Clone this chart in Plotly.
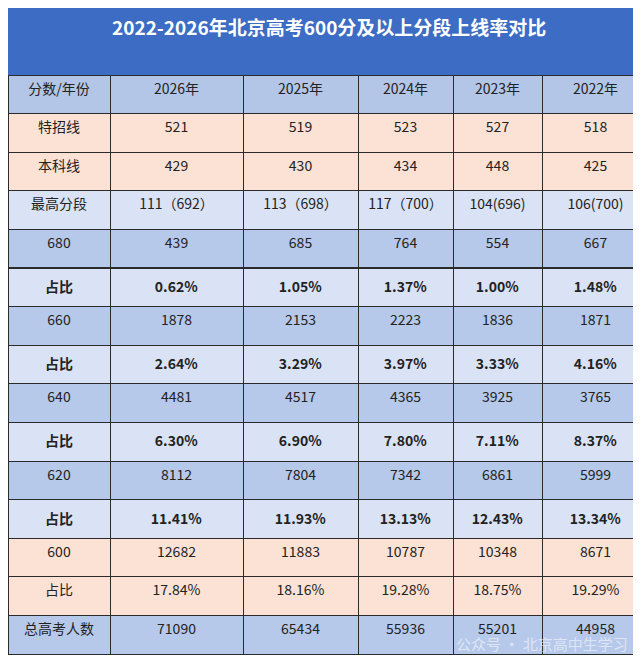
import plotly.graph_objects as go

years = ["2026年", "2025年", "2024年", "2023年", "2022年"]
row_labels = ["特招线", "本科线", "最高分段", "680", "占比", "660", "占比",
              "640", "占比", "620", "占比", "600", "占比", "总高考人数"]
tezhao = ["521", "519", "523", "527", "518"]
benke = ["429", "430", "434", "448", "425"]
top_seg = ["111（692）", "113（698）", "117（700）", "104(696)", "106(700)"]
n680 = ["439", "685", "764", "554", "667"]
p680 = ["0.62%", "1.05%", "1.37%", "1.00%", "1.48%"]
n660 = ["1878", "2153", "2223", "1836", "1871"]
p660 = ["2.64%", "3.29%", "3.97%", "3.33%", "4.16%"]
n640 = ["4481", "4517", "4365", "3925", "3765"]
p640 = ["6.30%", "6.90%", "7.80%", "7.11%", "8.37%"]
n620 = ["8112", "7804", "7342", "6861", "5999"]
p620 = ["11.41%", "11.93%", "13.13%", "12.43%", "13.34%"]
n600 = ["12682", "11883", "10787", "10348", "8671"]
p600 = ["17.84%", "18.16%", "19.28%", "18.75%", "19.29%"]
total = ["71090", "65434", "55936", "55201", "44958"]

rows = [tezhao, benke, top_seg, n680, p680, n660, p660, n640, p640,
        n620, p620, n600, p600, total]
bold_rows = {4, 6, 8, 10}

PEACH, LIGHT, DARK = "#fbe2d5", "#d9e3f5", "#b7c9ea"
row_fill = [PEACH, PEACH, LIGHT, DARK, LIGHT, DARK, LIGHT, DARK, LIGHT,
            DARK, LIGHT, PEACH, PEACH, DARK]

def fmt(t, i):
    return f"<b>{t}</b>" if i in bold_rows else t

columns = [[fmt(l, i) for i, l in enumerate(row_labels)]]
for c in range(len(years)):
    columns.append([fmt(r[c], i) for i, r in enumerate(rows)])

W, H = 641, 657
title_h = 67
row_h = 38.6

fig = go.Figure(go.Table(
    columnwidth=[102, 133, 115, 95, 89, 107],
    header=dict(values=["分数/年份"] + years, fill_color="#b4c6e7",
                line=dict(color="#2b2b2b", width=1), align="center", height=row_h,
                font=dict(family="Noto Sans CJK SC", size=14, color="#222")),
    cells=dict(values=columns, fill_color=[row_fill] * 6,
               line=dict(color="#2b2b2b", width=1), align="center", height=row_h,
               font=dict(family="Noto Sans CJK SC", size=14, color="#222")),
    domain=dict(x=[0, 1], y=[0, (H - title_h) / H]),
))

fig.add_shape(type="rect", xref="paper", yref="paper", x0=0, x1=1,
              y0=(H - title_h) / H, y1=1, fillcolor="#3c6cc3", line_width=0, layer="below")
fig.add_annotation(text="<b>2022-2026年北京高考600分及以上分段上线率对比</b>",
                   xref="paper", yref="paper", x=0.5, y=1 - 18 / H, yanchor="middle",
                   showarrow=False, font=dict(family="Noto Sans CJK SC", size=19, color="white"))
fig.add_annotation(text="公众号 · 北京高中生学习", xref="paper", yref="paper",
                   x=0.97, y=row_h / 2 / H + 0.004, xanchor="right", yanchor="middle", showarrow=False,
                   font=dict(family="Noto Sans CJK SC", size=15, color="rgba(255,255,255,0.55)"))

fig.update_layout(width=W, height=H, margin=dict(l=0, r=0, t=0, b=0),
                  paper_bgcolor="white")
fig.write_html("out.html")
